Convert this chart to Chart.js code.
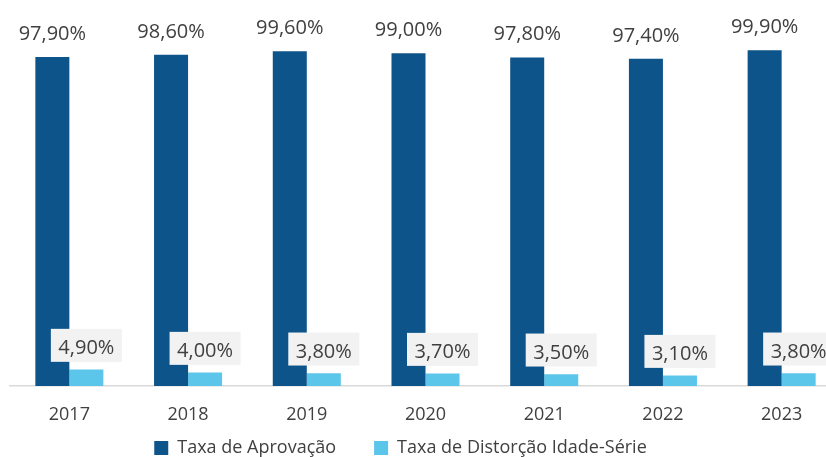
<!DOCTYPE html>
<html>
<head>
<meta charset="utf-8">
<script src="https://cdn.jsdelivr.net/npm/chart.js@4/dist/chart.umd.min.js"></script>
<style>
  html, body { margin: 0; padding: 0; background: #ffffff; overflow: hidden; width: 826px; height: 457px; }
  #wrap { position: absolute; left: -40px; top: 0; width: 881px; height: 467px; }
</style>
</head>
<body>
<div id="wrap"><canvas id="c"></canvas></div>
<script>
const categories = ['2017', '2018', '2019', '2020', '2021', '2022', '2023'];
const taxaAprovacao = [97.9, 98.6, 99.6, 99.0, 97.8, 97.4, 99.9];
const taxaDistorcao = [4.9, 4.0, 3.8, 3.7, 3.5, 3.1, 3.8];
const seriesNames = ['Taxa de Aprovação', 'Taxa de Distorção Idade-Série'];

const FONT = '"Open Sans", "Noto Sans", sans-serif';
const fmt = v => v.toFixed(2).replace('.', ',') + '%';

const labelPlugin = {
  id: 'valueLabels',
  afterDatasetsDraw(chart) {
    const ctx = chart.ctx;
    ctx.save();
    ctx.font = '20px ' + FONT;
    ctx.textAlign = 'center';
    ctx.textBaseline = 'alphabetic';
    chart.data.datasets.forEach((ds, di) => {
      const meta = chart.getDatasetMeta(di);
      meta.data.forEach((bar, i) => {
        const txt = fmt(ds.data[i]);
        if (di === 0) {
          ctx.fillStyle = '#404040';
          ctx.fillText(txt, bar.x, bar.y - 17);
        } else {
          const w = ctx.measureText(txt).width + 15;
          const base = bar.y - 15.7;
          ctx.fillStyle = '#f2f2f2';
          ctx.fillRect(bar.x - w / 2, base - 25, w, 33);
          ctx.fillStyle = '#404040';
          ctx.fillText(txt, bar.x, base);
        }
      });
    });
    ctx.restore();
  }
};

new Chart(document.getElementById('c'), {
  type: 'bar',
  data: {
    labels: categories,
    datasets: [
      { label: seriesNames[0], data: taxaAprovacao, backgroundColor: '#0C5489' },
      { label: seriesNames[1], data: taxaDistorcao, backgroundColor: '#5BC5EA' }
    ]
  },
  options: {
    responsive: true,
    maintainAspectRatio: false,
    animation: false,
    devicePixelRatio: 1,
    layout: { padding: { top: 50, left: 0, right: 0, bottom: 0 } },
    datasets: { bar: { categoryPercentage: 0.573, barPercentage: 1.0 } },
    scales: {
      x: {
        grid: { display: false, drawTicks: false },
        border: { display: true, color: '#d9d9d9', width: 1.5 },
        ticks: { color: '#404040', font: { family: FONT, size: 18 }, padding: -40, mirror: true, autoSkip: false, maxRotation: 0 },
        afterFit(scale) { scale.height = 15; }
      },
      y: {
        min: 0, max: 100,
        display: true,
        grid: { display: false, drawTicks: false },
        border: { display: false },
        ticks: { display: false },
        afterFit(scale) { scale.width = 50; }
      }
    },
    plugins: {
      tooltip: { enabled: false },
      legend: {
        position: 'bottom',
        labels: {
          color: '#404040',
          font: { family: FONT, size: 18 },
          boxWidth: 14, boxHeight: 14,
          padding: 38
        }
      }
    }
  },
  plugins: [labelPlugin]
});
</script>
</body>
</html>
